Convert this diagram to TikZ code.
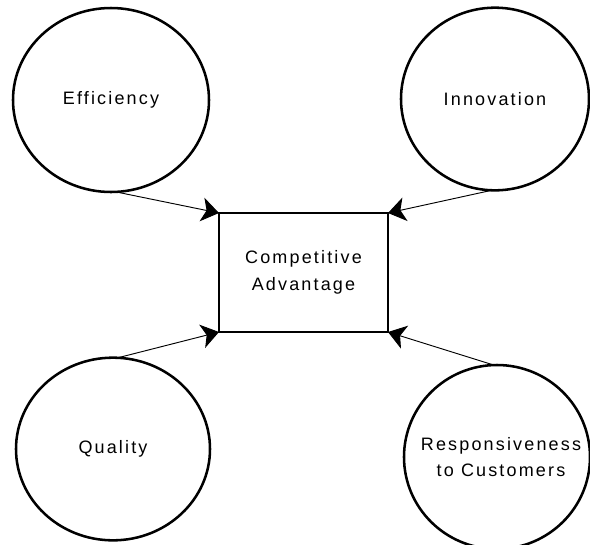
\documentclass[tikz,border=0pt]{standalone}
\usepackage{fontspec}
\setmainfont{Liberation Sans}[LetterSpace=12]
\usetikzlibrary{shapes.geometric,arrows.meta}
\begin{document}
\begin{tikzpicture}[x=0.75pt,y=-0.75pt,
  labeltext/.style={font=\fontsize{13.5}{20}\selectfont,align=center,inner sep=0pt},
  factor/.style={ellipse,draw,line width=1.9pt,inner sep=0pt,outer sep=0pt},
  goal/.style={rectangle,draw,line width=2pt,inner sep=0pt,outer sep=0pt,
    minimum width=126.75pt,minimum height=89.25pt,labeltext},
  link/.style={line width=0.7pt,-{Stealth[length=13pt,width=18pt,inset=3.5pt]}}]
  \useasboundingbox (0,0) rectangle (590,544);
  \node[goal] (ca) at (303.5,272.5) {Competitive\\Advantage};
  % outer factors: fixed-size ellipses, text set as a centred label
  \node[factor,minimum width=147pt,minimum height=138pt,
    label={[labeltext]center:Efficiency}] (eff) at (111,100) {};
  \node[factor,minimum width=141pt,minimum height=137pt,
    label={[labeltext]center:Innovation}] (inn) at (495,99) {};
  \node[factor,minimum width=145.5pt,minimum height=137pt,
    label={[labeltext]center:Quality}] (qual) at (113,449) {};
  \node[factor,minimum width=139.5pt,minimum height=138pt,
    label={[labeltext,xshift=3pt]center:Responsiveness\\to Customers}] (resp) at (497,457) {};
  \draw[link] (eff.-87) -- (ca.north west);
  \draw[link] (inn.-92) -- (ca.north east);
  \draw[link] (qual.87) -- (ca.south west);
  \draw[link] (resp.92) -- (ca.south east);
\end{tikzpicture}
\end{document}
